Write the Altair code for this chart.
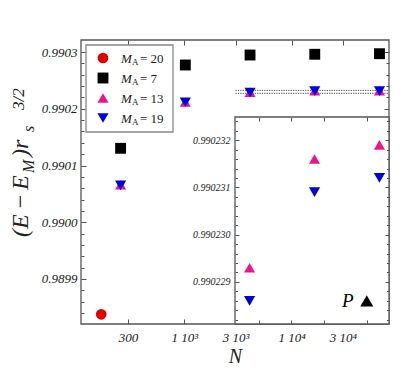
import altair as alt
import pandas as pd

W, H = 308, 284
FONT = "Liberation Serif"
AX = "#555555"
TXT = "#222222"

# ---------------- data ----------------
m_labels = ["20", "7", "13", "19"]
m_colors = ["#e00000", "#000000", "#f0128c", "#0000dc"]
m_shapes = ["circle", "square", "triangle-up", "triangle-down"]
m_sizes = [115, 125, 170, 170]

N_m20 = [169]
E_m20 = [0.9898378]
N_m7 = [256, 1024, 4096, 16384, 65536]
E_m7 = [0.9901303, 0.9902771, 0.9902947, 0.9902960, 0.9902970]
N_m13 = [256, 1024, 4096, 16384, 65536]
E_m13 = [0.9900662, 0.9902120, 0.9902293, 0.9902316, 0.9902319]
N_m19 = [256, 1024, 4096, 16384, 65536]
E_m19 = [0.9900650, 0.9902115, 0.9902286, 0.9902309, 0.9902312]

P_N = [50000]
P_E = [0.9902286]

band_E = [0.9902324, 0.9902272]
band_N0 = [3000, 3000]
band_N1 = [80350, 80350]

main_xdom = [109.6, 80350]
main_ydom = [0.9898207, 0.99032115]
ins_xdom = [3000, 80350]
ins_ydom = [0.99022811, 0.99023249]

main_xticks = [300, 1000, 3000, 10000, 30000]
main_xlabels = ["300", "1 10³", "3 10³", "1 10⁴", "3 10⁴"]
main_yticks = [0.9899, 0.9900, 0.9901, 0.9902, 0.9903]
main_yminor = [0.98984, 0.98986, 0.98988, 0.98992, 0.98994, 0.98996, 0.98998,
               0.99002, 0.99004, 0.99006, 0.99008, 0.99012, 0.99014, 0.99016,
               0.99018, 0.99022, 0.99024, 0.99026, 0.99028]
ins_xticks = [5000, 10000, 20000, 50000]
ins_yticks = [0.990229, 0.990230, 0.990231, 0.990232]
ins_yminor = [0.9902282, 0.9902284, 0.9902286, 0.9902288,
              0.9902292, 0.9902294, 0.9902296, 0.9902298,
              0.9902302, 0.9902304, 0.9902306, 0.9902308,
              0.9902312, 0.9902314, 0.9902316, 0.9902318,
              0.9902322, 0.9902324]

# ---------------- tables ----------------
rows = []
for s, Ns, Es in [("20", N_m20, E_m20), ("7", N_m7, E_m7),
                  ("13", N_m13, E_m13), ("19", N_m19, E_m19)]:
    for n, e in zip(Ns, Es):
        rows.append({"N": n, "E": e, "series": s})
pts = pd.DataFrame(rows)
ins_pts = pts[(pts["series"].isin(["13", "19"])) & (pts["N"] >= 4096)]
band = pd.DataFrame({"N0": band_N0, "N1": band_N1, "E": band_E})
pdf = pd.DataFrame({"N": P_N, "E": P_E})
leg = pd.DataFrame({"series": m_labels, "txt": ["= " + m for m in m_labels]})

# ---------------- scales ----------------
def sx_main():
    return alt.Scale(type="log", domain=main_xdom, nice=False)

def sy_main():
    return alt.Scale(domain=main_ydom, nice=False, zero=False)

def sx_ins():
    return alt.Scale(type="log", domain=ins_xdom, range=[154, W], nice=False)

def sy_ins():
    return alt.Scale(domain=ins_ydom, range=[H, 77], nice=False, zero=False)

color = alt.Color("series:N", scale=alt.Scale(domain=m_labels, range=m_colors), legend=None)
shape = alt.Shape("series:N", scale=alt.Scale(domain=m_labels, range=m_shapes), legend=None)
size = alt.Size("series:N", scale=alt.Scale(domain=m_labels, range=m_sizes), legend=None)


def axis_layer(xdom, ydom, xs, ys, xaxis, yaxis):
    df = pd.DataFrame({"x": xdom, "y": ydom})
    return alt.Chart(df).mark_point(opacity=0).encode(
        x=alt.X("x:Q", scale=xs, axis=xaxis),
        y=alt.Y("y:Q", scale=ys, axis=yaxis),
    )


def tick_axis(orient, offset, values, size_, z=0):
    return alt.Axis(orient=orient, offset=offset, values=values, tickSize=size_,
                    labels=False, domain=False, grid=False, title=None,
                    tickColor=AX, tickWidth=1, zindex=z)


lab_expr = " : ".join(
    f"datum.value == {v} ? '{t}'" for v, t in zip(main_xticks, main_xlabels)
) + " : ''"

main_x_label_axis = alt.Axis(
    orient="bottom", values=main_xticks, labelExpr=lab_expr, ticks=False,
    domain=False, grid=False, labelFont=FONT, labelFontStyle="italic",
    labelFontSize=13, labelColor=TXT, labelPadding=7, title="N",
    titleFont=FONT, titleFontStyle="italic", titleFontSize=20,
    titleFontWeight="normal", titleColor=TXT, titlePadding=2)
main_y_label_axis = alt.Axis(
    orient="left", values=main_yticks, format=".4f", ticks=False, domain=False,
    grid=False, labelFont=FONT, labelFontStyle="italic", labelFontSize=13,
    labelColor=TXT, labelPadding=4, title=None)
ins_y_label_axis = alt.Axis(
    orient="left", offset=-154, values=ins_yticks, format=".6f", ticks=False,
    domain=False, grid=False, labelFont=FONT, labelFontStyle="italic",
    labelFontSize=10, labelColor=TXT, labelPadding=5, title=None, zindex=1)

layers = []
# main axes (behind marks)
layers.append(axis_layer(main_xdom, main_ydom, sx_main(), sy_main(),
                         main_x_label_axis, main_y_label_axis))
layers.append(axis_layer(main_xdom, main_ydom, sx_main(), sy_main(),
                         tick_axis("top", -H, main_xticks, 5),
                         tick_axis("right", -W, main_yticks, 5)))
layers.append(axis_layer(main_xdom, main_ydom, sx_main(), sy_main(),
                         tick_axis("bottom", -H, main_xticks, 5),
                         tick_axis("left", -W, main_yticks, 5)))
layers.append(axis_layer(main_xdom, main_ydom, sx_main(), sy_main(),
                         None, tick_axis("right", -W, main_yminor, 3)))
layers.append(axis_layer(main_xdom, main_ydom, sx_main(), sy_main(),
                         None, tick_axis("left", -W, main_yminor, 3)))

# main frame
layers.append(alt.Chart(pd.DataFrame({"a": [0]})).mark_rect(
    fillOpacity=0, stroke=AX, strokeWidth=1.3).encode(
    x=alt.value(0), x2=alt.value(W), y=alt.value(0), y2=alt.value(H)))

# dotted band
layers.append(alt.Chart(band).mark_rule(
    color="#444444", strokeDash=[1.2, 1.2], strokeWidth=1).encode(
    x=alt.X("N0:Q", scale=sx_main(), axis=None),
    x2="N1:Q",
    y=alt.Y("E:Q", scale=sy_main(), axis=None)))

# main points
layers.append(alt.Chart(pts).mark_point(filled=True, opacity=1).encode(
    x=alt.X("N:Q", scale=sx_main(), axis=None),
    y=alt.Y("E:Q", scale=sy_main(), axis=None),
    color=color, shape=shape, size=size))

# inset background
layers.append(alt.Chart(pd.DataFrame({"a": [0]})).mark_rect(
    fill="white", stroke=AX, strokeWidth=1.3).encode(
    x=alt.value(154), x2=alt.value(W), y=alt.value(77), y2=alt.value(H)))

# inset points
layers.append(alt.Chart(ins_pts).mark_point(filled=True, opacity=1).encode(
    x=alt.X("N:Q", scale=sx_ins(), axis=None),
    y=alt.Y("E:Q", scale=sy_ins(), axis=None),
    color=color, shape=shape, size=size))

# P marker
layers.append(alt.Chart(pdf).mark_point(
    filled=True, opacity=1, shape="triangle-up", size=170, color="black").encode(
    x=alt.X("N:Q", scale=sx_ins(), axis=None),
    y=alt.Y("E:Q", scale=sy_ins(), axis=None)))
layers.append(alt.Chart(pdf).mark_text(
    text="P", font=FONT, fontStyle="italic", fontSize=19, color="black",
    dx=-19, align="center", baseline="middle").encode(
    x=alt.X("N:Q", scale=sx_ins(), axis=None),
    y=alt.Y("E:Q", scale=sy_ins(), axis=None)))

# inset axes (in front)
layers.append(axis_layer(ins_xdom, ins_ydom, sx_ins(), sy_ins(),
                         None, ins_y_label_axis))
layers.append(axis_layer(ins_xdom, ins_ydom, sx_ins(), sy_ins(),
                         tick_axis("top", -H, ins_xticks, 4, 1),
                         tick_axis("right", -154, ins_yticks, 4, 1)))
layers.append(axis_layer(ins_xdom, ins_ydom, sx_ins(), sy_ins(),
                         tick_axis("bottom", -(H - 77), ins_xticks, 4, 1),
                         tick_axis("left", -W, ins_yticks, 4, 1)))
layers.append(axis_layer(ins_xdom, ins_ydom, sx_ins(), sy_ins(),
                         None, tick_axis("right", -154, ins_yminor, 2.5, 1)))
layers.append(axis_layer(ins_xdom, ins_ydom, sx_ins(), sy_ins(),
                         None, tick_axis("left", -W, ins_yminor, 2.5, 1)))

# legend
layers.append(alt.Chart(pd.DataFrame({"a": [0]})).mark_rect(
    fill="white", stroke="#888888", strokeWidth=1.3).encode(
    x=alt.value(5), x2=alt.value(92), y=alt.value(5), y2=alt.value(92)))
leg_y = alt.Y("series:N", scale=alt.Scale(type="point", domain=m_labels,
                                          range=[18, 78], padding=0), axis=None)
layers.append(alt.Chart(leg).mark_point(filled=True, opacity=1).encode(
    x=alt.value(22), y=leg_y, color=color, shape=shape, size=size))
layers.append(alt.Chart(leg).mark_text(
    text="M", font=FONT, fontStyle="italic", fontSize=13, color=TXT,
    align="left", baseline="alphabetic", dy=4.5).encode(x=alt.value(40), y=leg_y))
layers.append(alt.Chart(leg).mark_text(
    text="A", font=FONT, fontSize=9, color=TXT,
    align="left", baseline="alphabetic", dy=7).encode(x=alt.value(51), y=leg_y))
layers.append(alt.Chart(leg).mark_text(
    font=FONT, fontSize=13, color=TXT,
    align="left", baseline="alphabetic", dy=4.5).encode(
    x=alt.value(59), y=leg_y, text="txt:N"))

# y title pieces (rotated), anchored at their glyph centre lines
title_parts = [("(E", -60, 197, 24), ("−", -60, 170, 24), ("E", -60, 150, 24),
               ("M", -52, 133, 16), (")r", -60, 117, 24), ("s", -52, 92, 16),
               ("3/2", -62, 70, 17)]
for t, xx, yy, fs in title_parts:
    layers.append(alt.Chart(pd.DataFrame({"a": [0]})).mark_text(
        text=t, font=FONT, fontStyle="italic", fontSize=fs, color=TXT,
        angle=270, align="left", baseline="middle").encode(
        x=alt.value(xx), y=alt.value(yy)))

chart = alt.layer(*layers).resolve_scale(x="independent", y="independent").properties(
    width=W, height=H,
    autosize=alt.AutoSizeParams(type="none"),
    padding={"left": 73, "top": 32, "right": 10, "bottom": 45},
).configure_view(stroke=None)

chart.save("out.html", embed_options={"renderer": "svg", "actions": False})
